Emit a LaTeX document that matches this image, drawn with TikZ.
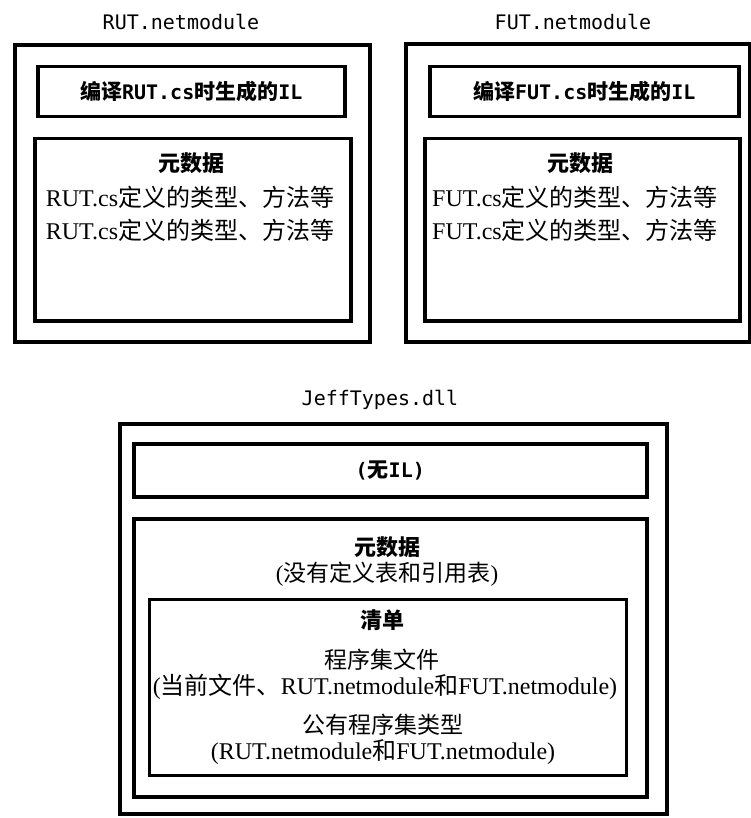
\documentclass[tikz,border=0pt]{standalone}
\usepackage{fontspec}
\setmainfont{Liberation Serif}
\newfontfamily\cjk{Noto Sans CJK SC}
\newfontfamily\monof{DejaVu Sans Mono}
\newcommand\zh[1]{{\cjk #1}}
\newcommand\zhb[1]{{\cjk\bfseries #1}}
\newcommand\mb[1]{{\monof\bfseries\fontsize{20}{24}\selectfont #1}}
\begin{document}
\begin{tikzpicture}[x=1pt,y=-1pt,
  outerbox/.style={draw, line width=4pt, anchor=north west, inner sep=0pt},
  innerbox/.style={draw, line width=3.5pt, anchor=north west, inner sep=0pt},
  manibox/.style={draw, line width=2.5pt, anchor=north west, inner sep=0pt},
  ttl/.style={font=\monof\fontsize{20}{24}\selectfont, inner sep=0pt},
  ilfont/.style={font=\fontsize{21}{24}\selectfont},
  txt/.style={font=\fontsize{23}{26}\selectfont, inner sep=0pt},
  txtw/.style={font=\fontsize{24}{26}\selectfont, inner sep=0pt},
  hdr/.style={font=\fontsize{22}{26}\selectfont, inner sep=0pt}]
\useasboundingbox (0,0) rectangle (751,818);

% RUT.netmodule
\node[ttl] (ruttitle) at (181,22) {RUT.netmodule};
\node[outerbox, minimum width=355pt, minimum height=297pt] (rutouter) at (13,43) {};
\node[innerbox, ilfont, minimum width=307pt, minimum height=50pt] (rutil) at (36,65)
  {\zhb{编译}\mb{RUT.cs}\zhb{时生成的}\mb{IL}};
\node[innerbox, minimum width=316pt, minimum height=182pt] (rutmeta) at (33,137) {};
\node[hdr] (rutmh) at (191,163) {\zhb{元数据}};
\node[txtw] (rutl1) at (190,197) {RUT.cs\zh{定义的类型、方法等}};
\node[txtw] (rutl2) at (190,230) {RUT.cs\zh{定义的类型、方法等}};

% FUT.netmodule
\node[ttl] (futtitle) at (573,22) {FUT.netmodule};
\node[outerbox, minimum width=344pt, minimum height=298pt] (futouter) at (404,42) {};
\node[innerbox, ilfont, minimum width=309pt, minimum height=50pt] (futil) at (428,65)
  {\zhb{编译}\mb{FUT.cs}\zhb{时生成的}\mb{IL}};
\node[innerbox, minimum width=315pt, minimum height=182pt] (futmeta) at (423,137) {};
\node[hdr] (futmh) at (580,163) {\zhb{元数据}};
\node[txtw] (futl1) at (575,197) {FUT.cs\zh{定义的类型、方法等}};
\node[txtw] (futl2) at (575,230) {FUT.cs\zh{定义的类型、方法等}};

% JeffTypes.dll
\node[ttl] (jefftitle) at (380,400) {JeffTypes.dll};
\node[outerbox, minimum width=547pt, minimum height=390pt] (jeffouter) at (118,422) {};
\node[innerbox, ilfont, minimum width=513pt, minimum height=53pt] (jeffil) at (132,442)
  {\mb{(}\zhb{无}\mb{IL)}};
\node[innerbox, minimum width=513pt, minimum height=278pt] (jeffmeta) at (132,517) {};
\node[hdr] (jeffmh) at (387,547) {\zhb{元数据}};
\node[txt] (jeffml) at (387,574) {(\zh{没有定义表和引用表})};
\node[manibox, minimum width=477pt, minimum height=176pt] (mani) at (148,598) {};
\node[hdr] (manih) at (382,620) {\zhb{清单}};
\node[txt] (manil1) at (382,660) {\zh{程序集文件}};
\node[txtw] (manil2) at (385,687) {(\zh{当前文件、}RUT.netmodule\zh{和}FUT.netmodule)};
\node[txt] (manil3) at (383,725) {\zh{公有程序集类型}};
\node[txtw] (manil4) at (383,752) {(RUT.netmodule\zh{和}FUT.netmodule)};
\end{tikzpicture}
\end{document}
